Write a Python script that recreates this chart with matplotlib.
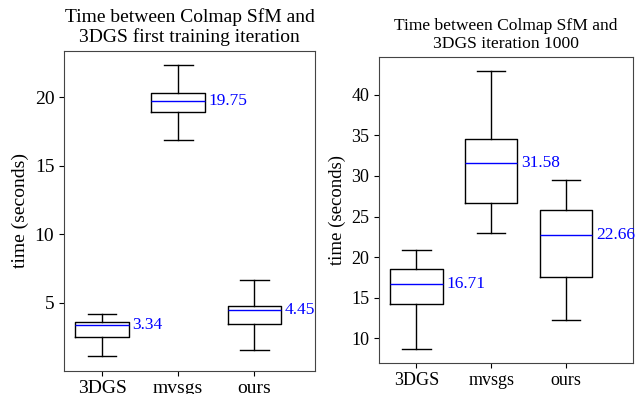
import matplotlib
matplotlib.use("Agg")
import matplotlib.pyplot as plt

plt.rcParams['font.family'] = ['Liberation Serif', 'DejaVu Serif']

methods = ["3DGS", "mvsgs", "ours"]

# Left: time to first training iteration
left_whislo = [1.10, 16.88, 1.56]
left_q1 = [2.53, 18.90, 3.46]
left_med = [3.34, 19.75, 4.45]
left_q3 = [3.58, 20.29, 4.75]
left_whishi = [4.20, 22.34, 6.68]

# Right: time to iteration 1000
right_whislo = [8.68, 23.00, 12.27]
right_q1 = [14.25, 26.70, 17.59]
right_med = [16.71, 31.58, 22.66]
right_q3 = [18.49, 34.55, 25.80]
right_whishi = [20.81, 43.00, 29.47]

left_title = "Time between Colmap SfM and\n3DGS first training iteration"
right_title = "Time between Colmap SfM and\n3DGS iteration 1000"


def make_stats(lo, q1, med, q3, hi):
    return [dict(whislo=a, q1=b, med=c, q3=d, whishi=e, fliers=[], label=m)
            for a, b, c, d, e, m in zip(lo, q1, med, q3, hi, methods)]


fig = plt.figure(figsize=(6.42, 3.94), dpi=100)
W, H = 642, 394
axL = fig.add_axes([64 / W, 1 - 370.7 / H, (315 - 64) / W, (370.7 - 50.7) / H])
axR = fig.add_axes([379 / W, 1 - 362.7 / H, (633.3 - 379) / W, (362.7 - 56.7) / H])

configs = [
    # ax, stats, medians, title, xlim, tick fs, title fs, ylabel fs, median fs, yticks
    (axL, make_stats(left_whislo, left_q1, left_med, left_q3, left_whishi), left_med,
     left_title, (0.5, 3.8), 14, 14, 14, 12.5, [5, 10, 15, 20]),
    (axR, make_stats(right_whislo, right_q1, right_med, right_q3, right_whishi), right_med,
     right_title, (0.5, 3.9), 13, 12.6, 13.5, 12.5, [10, 15, 20, 25, 30, 35, 40]),
]

for ax, stats, meds, title, xlim, tfs, ttl_fs, yl_fs, mfs, yticks in configs:
    ax.bxp(stats, positions=[1, 2, 3], widths=0.7, capwidths=0.38,
           showfliers=False,
           boxprops=dict(color='black', linewidth=1.0),
           whiskerprops=dict(color='black', linewidth=1.0),
           capprops=dict(color='black', linewidth=1.0),
           medianprops=dict(color='blue', linewidth=1.0))
    for i, m in enumerate(meds):
        ax.text(i + 1 + 0.35 + 0.05, m, f"{m:.2f}", color='blue',
                fontsize=mfs, va='center', ha='left')
    ax.set_xlim(*xlim)
    ax.set_yticks(yticks)
    ax.set_title(title, fontsize=ttl_fs)
    ax.set_ylabel("time (seconds)", fontsize=yl_fs)
    ax.tick_params(labelsize=tfs)
    for sp in ax.spines.values():
        sp.set_color('#444444')

fig.savefig("out.png", dpi=100)
